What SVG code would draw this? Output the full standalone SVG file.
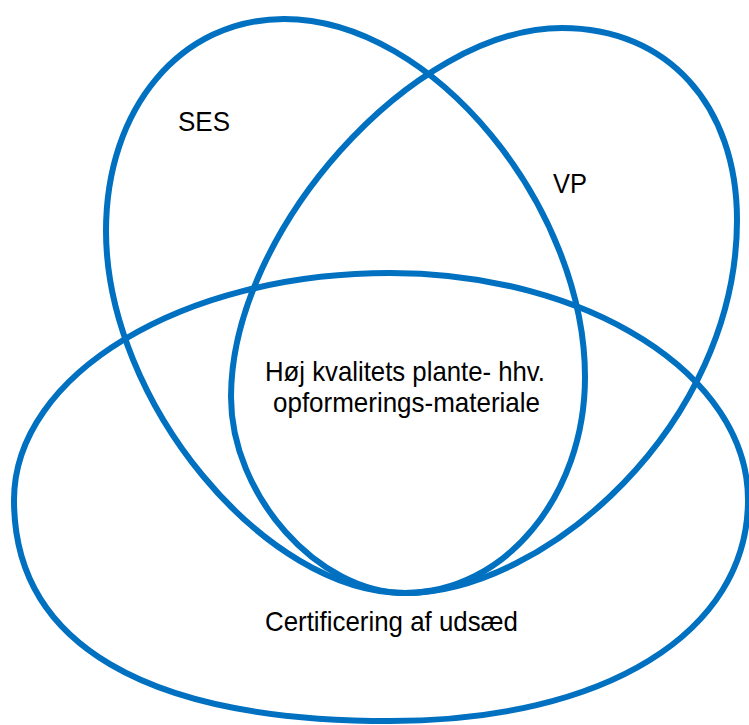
<svg xmlns="http://www.w3.org/2000/svg" width="749" height="725" viewBox="0 0 749 725">
  <style>
    .ring { fill: none; stroke: #0070C0; stroke-width: 6; }
    .lbl { font-family: "Liberation Sans", Arial, "DejaVu Sans", sans-serif; font-size: 28px; fill: #000; text-anchor: middle; }
  </style>
  <rect width="749" height="725" fill="#fff"/>

  <!-- SES set -->
  <g id="ses">
    <path class="ring" d="M284,19 C180.8,19 106,108 106,231 C106,401 264.5,593 405,593 C504.4,593 585,496.2 585,377 C585,208.7 434.5,19 284,19 Z"/>
    <text class="lbl" x="204" y="131" textLength="52" lengthAdjust="spacingAndGlyphs">SES</text>
  </g>

  <!-- VP set -->
  <g id="vp">
    <path class="ring" d="M562,28 C667,28 737,104.8 737,220 C737,425 544.4,593 405,593 C318,593 231,495 231,397 C231,231 413,28 562,28 Z"/>
    <text class="lbl" x="570" y="193" textLength="34" lengthAdjust="spacingAndGlyphs">VP</text>
  </g>

  <!-- Seed certification set -->
  <g id="certificering">
    <path class="ring" d="M14,500 C14,374.7 182.4,273 390,273 C587.6,273 748,374.7 748,500 C748,632.6 604.8,721 390,721 C145.6,721 14,643.7 14,500 Z"/>
    <text class="lbl" x="391.5" y="631" textLength="253" lengthAdjust="spacingAndGlyphs">Certificering af udsæd</text>
  </g>

  <!-- Shared intersection -->
  <g id="intersection">
    <text class="lbl" x="405" y="381" textLength="280" lengthAdjust="spacingAndGlyphs">Høj kvalitets plante- hhv.</text>
    <text class="lbl" x="406.5" y="412" textLength="267" lengthAdjust="spacingAndGlyphs">opformerings-materiale</text>
  </g>

  <g id="connectors"/>
</svg>
